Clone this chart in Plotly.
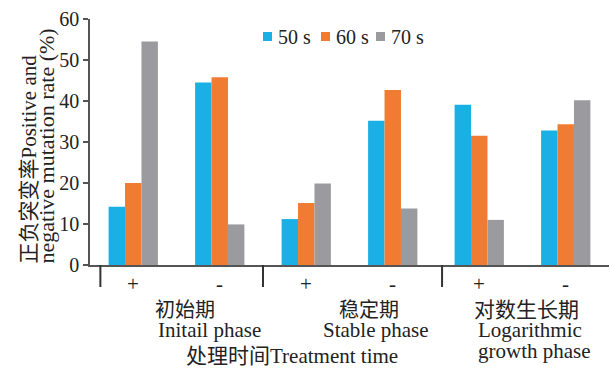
import plotly.graph_objects as go

# Categories: sign of mutation within each treatment phase
signs = ["+", "-", "+", "-", "+", "-"]
bar_slots = [0, 1, 2, 3, 4, 5]

# Mutation rate (%) per irradiation time
rate_50s = [14.2, 44.5, 11.2, 35.2, 39.1, 32.8]
rate_60s = [20.0, 45.8, 15.1, 42.7, 31.5, 34.3]
rate_70s = [54.5, 9.9, 19.9, 13.8, 11.0, 40.2]

series_names = ["50 s", "60 s", "70 s"]
series_colors = ["#1AAFE5", "#F07C33", "#9B9B9F"]

SERIF = "Liberation Serif, 'Noto Sans CJK SC', serif"
TXT = "#222222"

fig = go.Figure()
for name, vals, col in zip(series_names, [rate_50s, rate_60s, rate_70s], series_colors):
    fig.add_trace(go.Bar(x=bar_slots, y=vals, name=name, marker=dict(color=col, line=dict(width=0)),
                         showlegend=False))

W, H = 612, 370
L, R, T, B = 90, 3, 19, 105
pw, ph = W - L - R, H - T - B

def px(x):
    return (x - L) / pw

def py(y):
    return (H - B - y) / ph

shapes = []
annotations = []

# Group separators hanging below the x axis
for xs in [-0.38, 1.5, 3.57]:
    shapes.append(dict(type="line", xref="x", yref="paper", x0=xs, x1=xs, y0=0, y1=py(287),
                       line=dict(color="#333333", width=2)))

# Sign labels under each bar group
for i, s in zip(bar_slots, signs):
    annotations.append(dict(x=i, y=py(284), xref="x", yref="paper", text=s, showarrow=False,
                            font=dict(family=SERIF, size=21, color=TXT), xanchor="center", yanchor="middle"))

# Phase labels: (text, left x, centre y, size)
phase_lines = [
    ("初始期", 153, 310, 20), ("Initail phase", 156, 330, 21),
    ("稳定期", 337, 310, 20), ("Stable phase", 321, 330, 21),
    ("对数生长期", 472, 310, 21), ("Logarithmic", 476, 330, 21), ("growth phase", 476, 351, 21),
    ("处理时间Treatment time", 184, 356, 21),
]
for txt, x0, yc, sz in phase_lines:
    annotations.append(dict(x=px(x0), y=py(yc), xref="paper", yref="paper", text=txt, showarrow=False,
                            font=dict(family=SERIF, size=sz, color=TXT), xanchor="left", yanchor="middle"))

# Y axis title, two rotated lines starting at the bottom of the axis
for txt, xc, sz in [("正负突变率Positive and", 28, 21), ("negative mutation rate (%)", 46, 22)]:
    annotations.append(dict(x=px(xc), y=py(266), xref="paper", yref="paper", text=txt, showarrow=False,
                            textangle=-90, font=dict(family=SERIF, size=sz, color=TXT),
                            xanchor="center", yanchor="bottom"))

# Legend: colour squares with labels
legend_pos = [(263, 276), (321, 334), (376, 389)]
for (sq, tx), name, col in zip(legend_pos, series_names, series_colors):
    shapes.append(dict(type="rect", xref="paper", yref="paper", x0=px(sq), x1=px(sq + 9),
                       y0=py(41), y1=py(32), fillcolor=col, line=dict(width=0)))
    annotations.append(dict(x=px(tx), y=py(37), xref="paper", yref="paper", text=name, showarrow=False,
                            font=dict(family=SERIF, size=20, color=TXT), xanchor="left", yanchor="middle"))

fig.update_layout(
    width=W, height=H,
    margin=dict(l=L, r=R, t=T, b=B, pad=0),
    paper_bgcolor="white", plot_bgcolor="white",
    barmode="group", bargap=0.43, bargroupgap=0,
    shapes=shapes, annotations=annotations,
    xaxis=dict(range=[-0.5, 5.5], showticklabels=False, ticks="", showgrid=False, zeroline=False,
               showline=True, linecolor="#555555", linewidth=1.5),
    yaxis=dict(range=[0, 60], tickvals=[0, 10, 20, 30, 40, 50, 60], showgrid=False, zeroline=False,
               showline=True, linecolor="#555555", linewidth=1.5, ticks="outside", ticklen=5,
               tickwidth=1.5, tickcolor="#555555",
               tickfont=dict(family=SERIF, size=20, color=TXT)),
)

fig.write_html("out.html")
